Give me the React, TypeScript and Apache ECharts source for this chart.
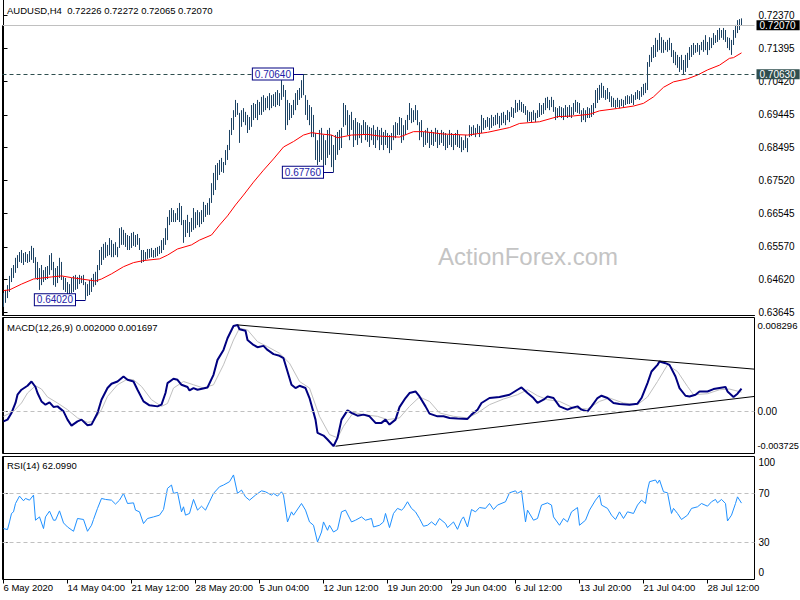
import React, { useEffect, useRef } from 'react';
import * as echarts from 'echarts';

const FONT = '"Liberation Sans", Arial, sans-serif';

const xTickIndex = [0, 32, 64, 96, 128, 160, 192, 224, 256, 288, 320, 352];
const xTickLabels = ['6 May 2020', '14 May 04:00', '21 May 12:00', '28 May 20:00', '5 Jun 04:00', '12 Jun 12:00', '19 Jun 20:00', '29 Jun 04:00', '6 Jul 12:00', '13 Jul 20:00', '21 Jul 04:00', '28 Jul 12:00'];
const priceTicks = [0.7237, 0.71395, 0.7042, 0.69445, 0.68495, 0.6752, 0.66545, 0.6557, 0.6462, 0.63645];
const macdTicks = [-0.003725, 0, 0.008296];
const rsiTicks = [0, 30, 70, 100];

const barHigh = [
0.6422,0.6431,0.6445,0.6472,0.6495,0.6504,0.6525,0.6533,0.6542,0.6548,
0.6539,0.6542,0.6536,0.6545,0.6560,0.6554,0.6527,0.6513,0.6495,0.6504,
0.6489,0.6498,0.6501,0.6533,0.6539,0.6513,0.6495,0.6501,0.6525,0.6513,
0.6469,0.6466,0.6454,0.6448,0.6466,0.6472,0.6475,0.6469,0.6475,0.6472,
0.6475,0.6454,0.6448,0.6460,0.6466,0.6478,0.6484,0.6504,0.6548,0.6557,
0.6566,0.6571,0.6563,0.6583,0.6577,0.6566,0.6571,0.6557,0.6612,0.6615,
0.6607,0.6598,0.6592,0.6589,0.6598,0.6601,0.6592,0.6595,0.6583,0.6548,
0.6548,0.6542,0.6551,0.6551,0.6554,0.6548,0.6554,0.6557,0.6560,0.6577,
0.6583,0.6612,0.6645,0.6665,0.6671,0.6665,0.6656,0.6671,0.6686,0.6677,
0.6636,0.6636,0.6651,0.6630,0.6642,0.6671,0.6659,0.6665,0.6659,0.6665,
0.6689,0.6680,0.6686,0.6700,0.6744,0.6774,0.6797,0.6803,0.6812,0.6818,
0.6806,0.6841,0.6856,0.6900,0.6935,0.6958,0.6988,0.6979,0.6950,0.6958,
0.6964,0.6953,0.6944,0.6938,0.6973,0.6979,0.6976,0.6988,0.6982,0.6997,
0.7002,0.6994,0.6999,0.7008,0.7002,0.7005,0.7011,0.7017,0.7008,0.7046,
0.7032,0.7017,0.6988,0.6979,0.6973,0.6988,0.7008,0.7017,0.7023,0.7046,
0.7064,0.7002,0.6988,0.6973,0.6967,0.6944,0.6891,0.6870,0.6900,0.6906,
0.6885,0.6870,0.6900,0.6906,0.6885,0.6856,0.6885,0.6894,0.6900,0.6906,
0.6979,0.6973,0.6958,0.6944,0.6953,0.6929,0.6935,0.6923,0.6920,0.6914,
0.6929,0.6923,0.6914,0.6909,0.6906,0.6914,0.6900,0.6909,0.6900,0.6906,
0.6894,0.6900,0.6891,0.6885,0.6891,0.6914,0.6923,0.6920,0.6938,0.6935,
0.6914,0.6929,0.6944,0.6979,0.6964,0.6958,0.6973,0.6958,0.6923,0.6929,
0.6894,0.6900,0.6906,0.6894,0.6900,0.6894,0.6906,0.6900,0.6891,0.6900,
0.6894,0.6891,0.6885,0.6900,0.6891,0.6885,0.6891,0.6900,0.6885,0.6879,
0.6870,0.6885,0.6876,0.6914,0.6909,0.6914,0.6906,0.6917,0.6912,0.6944,
0.6935,0.6929,0.6938,0.6935,0.6944,0.6938,0.6944,0.6950,0.6941,0.6950,
0.6953,0.6944,0.6958,0.6953,0.6967,0.6964,0.6988,0.6979,0.6988,0.6982,
0.6976,0.6970,0.6958,0.6953,0.6953,0.6958,0.6950,0.6958,0.6979,0.6973,
0.6979,0.6994,0.6997,0.6988,0.6997,0.6988,0.6967,0.6964,0.6970,0.6967,
0.6964,0.6973,0.6967,0.6973,0.6967,0.6979,0.6988,0.6982,0.6979,0.6958,
0.6964,0.6958,0.6967,0.6964,0.6973,0.6979,0.7017,0.7023,0.7032,0.7038,
0.7029,0.7017,0.7023,0.7011,0.6999,0.6994,0.6988,0.6994,0.6988,0.6991,
0.6988,0.6999,0.7002,0.6999,0.7005,0.7002,0.7011,0.7017,0.7014,0.7026,
0.7035,0.7038,0.7099,0.7120,0.7143,0.7149,0.7170,0.7164,0.7184,0.7172,
0.7164,0.7158,0.7164,0.7170,0.7155,0.7134,0.7129,0.7120,0.7114,0.7120,
0.7105,0.7120,0.7126,0.7143,0.7149,0.7155,0.7149,0.7155,0.7149,0.7158,
0.7164,0.7178,0.7158,0.7172,0.7170,0.7184,0.7178,0.7193,0.7199,0.7193,
0.7199,0.7193,0.7172,0.7170,0.7164,0.7193,0.7208,0.7222,0.7225,0.72272
];

const barLow = [
0.6381,0.6393,0.6407,0.6425,0.6454,0.6466,0.6481,0.6495,0.6513,0.6510,
0.6504,0.6513,0.6510,0.6513,0.6519,0.6510,0.6466,0.6460,0.6431,0.6445,
0.6454,0.6460,0.6463,0.6475,0.6489,0.6445,0.6440,0.6451,0.6466,0.6460,
0.6431,0.6425,0.6410,0.6416,0.6422,0.6425,0.6431,0.6434,0.6448,0.6451,
0.6445,0.6402,0.6413,0.6416,0.6425,0.6440,0.6445,0.6454,0.6489,0.6504,
0.6519,0.6525,0.6530,0.6533,0.6527,0.6527,0.6533,0.6527,0.6554,0.6563,
0.6563,0.6557,0.6548,0.6548,0.6554,0.6560,0.6557,0.6563,0.6548,0.6510,
0.6513,0.6519,0.6522,0.6525,0.6527,0.6525,0.6527,0.6530,0.6536,0.6539,
0.6548,0.6563,0.6577,0.6621,0.6630,0.6630,0.6630,0.6636,0.6630,0.6621,
0.6569,0.6586,0.6598,0.6586,0.6601,0.6607,0.6612,0.6621,0.6615,0.6624,
0.6630,0.6645,0.6651,0.6651,0.6686,0.6709,0.6724,0.6753,0.6768,0.6777,
0.6774,0.6797,0.6812,0.6841,0.6885,0.6900,0.6938,0.6944,0.6862,0.6909,
0.6923,0.6914,0.6891,0.6900,0.6909,0.6929,0.6935,0.6929,0.6944,0.6944,
0.6953,0.6958,0.6964,0.6958,0.6964,0.6970,0.6967,0.6973,0.6970,0.6988,
0.6997,0.6900,0.6914,0.6929,0.6935,0.6944,0.6958,0.6973,0.6988,0.6994,
0.7002,0.6944,0.6929,0.6914,0.6879,0.6879,0.6812,0.6797,0.6806,0.6812,
0.6791,0.6797,0.6818,0.6827,0.6791,0.6776,0.6812,0.6827,0.6841,0.6847,
0.6909,0.6914,0.6885,0.6870,0.6900,0.6850,0.6870,0.6856,0.6876,0.6862,
0.6885,0.6870,0.6865,0.6850,0.6870,0.6856,0.6847,0.6870,0.6841,0.6856,
0.6841,0.6856,0.6847,0.6832,0.6841,0.6870,0.6876,0.6885,0.6885,0.6862,
0.6870,0.6885,0.6900,0.6929,0.6920,0.6923,0.6929,0.6914,0.6870,0.6879,
0.6850,0.6856,0.6862,0.6847,0.6856,0.6853,0.6865,0.6847,0.6856,0.6862,
0.6853,0.6841,0.6847,0.6856,0.6850,0.6841,0.6856,0.6850,0.6847,0.6835,
0.6841,0.6847,0.6835,0.6879,0.6882,0.6885,0.6879,0.6891,0.6879,0.6891,
0.6900,0.6906,0.6909,0.6900,0.6906,0.6912,0.6914,0.6917,0.6906,0.6914,
0.6920,0.6914,0.6929,0.6923,0.6938,0.6935,0.6950,0.6953,0.6958,0.6953,
0.6950,0.6944,0.6923,0.6926,0.6923,0.6929,0.6923,0.6935,0.6938,0.6944,
0.6947,0.6958,0.6964,0.6958,0.6967,0.6953,0.6929,0.6935,0.6938,0.6935,
0.6929,0.6938,0.6935,0.6938,0.6935,0.6944,0.6953,0.6950,0.6947,0.6923,
0.6929,0.6923,0.6935,0.6935,0.6938,0.6944,0.6964,0.6979,0.6988,0.6994,
0.6994,0.6988,0.6991,0.6982,0.6967,0.6967,0.6964,0.6967,0.6964,0.6970,
0.6967,0.6973,0.6976,0.6976,0.6979,0.6973,0.6988,0.6991,0.6988,0.6997,
0.7002,0.7008,0.7017,0.7085,0.7099,0.7111,0.7114,0.7129,0.7134,0.7126,
0.7126,0.7134,0.7129,0.7134,0.7114,0.7096,0.7090,0.7082,0.7070,0.7076,
0.7064,0.7070,0.7082,0.7105,0.7114,0.7120,0.7126,0.7129,0.7120,0.7134,
0.7129,0.7134,0.7120,0.7134,0.7140,0.7149,0.7155,0.7158,0.7164,0.7170,
0.7164,0.7158,0.7140,0.7134,0.7120,0.7149,0.7170,0.7184,0.7193,0.72065
];

// moving average, [bar index, price]
const maLine = [
[0,0.6429],[3,0.6431],[9,0.6448],[15,0.6463],[24,0.6469],[29,0.6472],[34,0.6467],[40,0.6462],[46,0.6457],[49,0.6463],
[54,0.6478],[60,0.6499],[65,0.6511],[70,0.6517],[78,0.6522],[82,0.6533],[87,0.6551],[94,0.6563],[98,0.6577],[104,0.6592],
[108,0.6621],[112,0.6648],[116,0.6680],[120,0.6709],[125,0.6747],[130,0.6782],[135,0.6815],[140,0.6850],[145,0.6866],[150,0.6885],
[154,0.6892],[159,0.6888],[164,0.6885],[167,0.6877],[174,0.6885],[182,0.6887],[188,0.6882],[198,0.6879],[205,0.6895],[210,0.6895],
[220,0.6888],[232,0.6885],[242,0.6893],[253,0.6907],[258,0.6919],[268,0.6924],[277,0.6939],[285,0.6941],[293,0.6946],[298,0.6956],
[307,0.6963],[315,0.6970],[320,0.6978],[325,0.6997],[330,0.7025],[335,0.7041],[342,0.7050],[347,0.7061],[352,0.7076],[358,0.7090],
[363,0.7110],[365,0.7112],[369,0.7126]
];

const macdMain = [
[0,-0.00088],[2,-0.00073],[4,-0.00014],[6,0.00074],[7,0.00147],[9,0.00191],[12,0.00226],[14,0.00264],[16,0.00215],[17,0.00162],
[19,0.00088],[21,0.00059],[23,0.00079],[25,0.00039],[27,0.00044],[30,0],[32,-0.00073],[34,-0.00126],[37,-0.00088],[39,-0.00073],
[42,-0.00123],[44,-0.00117],[47,-0.00014],[49,0.00103],[52,0.00206],[54,0.00244],[57,0.00264],[60,0.00308],[62,0.00279],[65,0.00264],
[67,0.00191],[70,0.00088],[73,0.00053],[77,0.00044],[79,0.00059],[81,0.00162],[82,0.0025],[85,0.00288],[87,0.00279],[89,0.00235],
[92,0.00215],[93,0.00185],[95,0.00206],[97,0.00191],[102,0.00211],[105,0.00323],[107,0.00455],[110,0.00543],[112,0.00646],[115,0.00755],
[117,0.00764],[118,0.00726],[121,0.00713],[122,0.00631],[125,0.00587],[127,0.00567],[130,0.00579],[132,0.00543],[135,0.00506],[138,0.00491],
[140,0.0047],[142,0.00352],[144,0.00235],[146,0.00206],[148,0.00226],[151,0.00206],[153,0.00118],[156,-0.00073],[157,-0.0019],[160,-0.00214],
[162,-0.00249],[165,-0.00308],[167,-0.00234],[169,-0.00073],[172,0.00009],[174,-0.00014],[177,-0.00038],[180,-0.00029],[183,-0.00044],[186,-0.00102],
[189,-0.00102],[191,-0.00073],[193,-0.00117],[196,-0.00073],[198,0.00037],[201,0.00118],[203,0.00162],[206,0.00176],[208,0.00132],[211,0.00044],
[213,-0.0002],[217,-0.00044],[220,-0.00044],[223,-0.00058],[227,-0.00064],[232,-0.00067],[234,-0.00029],[237,0.00015],[239,0.00074],[243,0.00118],
[248,0.00127],[253,0.00147],[257,0.00191],[259,0.00211],[262,0.00162],[265,0.00118],[267,0.00074],[270,0.00103],[272,0.00132],[275,0.00118],
[278,0.00044],[282,0.00015],[284,0.0003],[287,0.00044],[289,0.00015],[292,0],[294,0.00044],[297,0.00118],[299,0.00138],[302,0.00118],
[305,0.00074],[308,0.00065],[313,0.00059],[317,0.00068],[319,0.00118],[322,0.0025],[324,0.00352],[327,0.00411],[328,0.0044],[331,0.00426],
[333,0.00411],[336,0.00308],[338,0.00206],[341,0.00138],[343,0.00132],[346,0.00147],[348,0.00176],[352,0.00176],[355,0.00197],[358,0.00206],
[361,0.00215],[362,0.00176],[365,0.00127],[367,0.00156],[369,0.002]
];

const macdSignal = [
[0,-0.00044],[5,0],[9,0.00074],[12,0.00162],[16,0.00226],[19,0.00197],[22,0.00127],[27,0.00074],[32,0.00015],[37,-0.00058],
[42,-0.00097],[45,-0.00088],[49,0.00015],[52,0.00132],[57,0.00235],[62,0.00285],[65,0.00279],[69,0.0022],[74,0.00103],[79,0.00044],
[82,0.0007],[85,0.00206],[90,0.00264],[95,0.00235],[100,0.00206],[105,0.00235],[110,0.00411],[115,0.00631],[118,0.00735],[122,0.0072],
[127,0.00616],[132,0.00572],[138,0.00514],[143,0.00426],[148,0.00264],[153,0.00206],[158,-0.00044],[163,-0.00205],[167,-0.00234],[170,-0.00132],
[175,-0.00009],[180,-0.00029],[187,-0.00044],[192,-0.00073],[198,-0.00058],[203,0.00044],[208,0.00127],[213,0.00088],[218,-0.00014],[225,-0.00044],
[232,-0.00058],[237,-0.00014],[243,0.00059],[250,0.00109],[257,0.00147],[262,0.00191],[267,0.00138],[272,0.00103],[278,0.00088],[285,0.0003],
[292,0.00021],[298,0.00088],[303,0.00118],[310,0.00074],[317,0.00059],[322,0.00127],[327,0.00264],[332,0.00411],[337,0.00352],[342,0.0022],
[345,0.00147],[352,0.00156],[358,0.00191],[363,0.00197],[369,0.0017]
];

const macdUpperTrend = [[117, 0.00764], [375.5, 0.00373]];
const macdLowerTrend = [[166, -0.00308], [375.5, 0.00132]];

const rsiLine = [
[0,41.4],[2,40.6],[3,46.8],[4,53.7],[5,55.0],[6,61.8],[8,67.8],[10,64.0],[11,65.9],[13,64.5],
[15,68.6],[16,48.2],[18,50.9],[20,41.4],[21,50.9],[23,55.6],[25,48.2],[26,48.2],[28,55.8],[30,46.0],
[32,42.7],[35,39.2],[37,49.6],[40,48.8],[42,39.2],[44,44.1],[45,48.8],[47,57.8],[49,65.9],[51,65.1],
[54,64.5],[56,61.3],[58,64.5],[60,70.0],[62,61.8],[65,62.3],[66,56.4],[68,55.0],[70,45.5],[72,49.6],
[75,50.9],[78,52.3],[80,56.9],[82,74.1],[84,76.8],[85,70.0],[87,70.8],[89,55.0],[90,59.1],[91,52.3],
[93,53.7],[95,65.1],[97,56.4],[99,59.6],[101,56.4],[103,63.2],[105,70.0],[108,75.4],[110,76.8],[113,79.5],
[115,85.0],[117,70.0],[119,72.7],[121,67.2],[123,64.5],[126,68.6],[129,72.1],[131,71.3],[134,68.6],[135,70.0],
[137,67.8],[139,71.3],[140,68.6],[142,46.8],[144,55.0],[145,52.3],[149,61.8],[151,56.4],[153,46.8],[155,44.1],
[157,30.5],[159,38.6],[160,46.8],[162,40.0],[163,44.1],[165,38.6],[167,40.6],[169,55.0],[171,56.4],[174,46.8],
[176,48.2],[179,50.9],[181,48.2],[184,49.6],[185,42.7],[188,44.1],[190,46.8],[191,53.7],[193,42.2],[195,53.7],
[197,57.8],[199,56.4],[200,57.8],[202,63.2],[204,57.8],[206,55.0],[208,49.6],[210,43.3],[212,44.1],[214,46.8],
[216,44.1],[218,49.6],[221,45.5],[222,42.2],[225,46.8],[227,40.8],[229,48.8],[230,50.9],[232,42.7],[234,56.9],
[236,55.0],[238,58.5],[241,57.8],[243,61.8],[245,56.9],[247,60.5],[251,63.2],[253,70.5],[256,72.1],[257,70.0],
[259,72.1],[261,46.8],[262,56.4],[265,48.2],[267,49.6],[269,60.5],[272,62.3],[274,60.5],[275,50.9],[278,44.1],
[280,49.6],[282,46.8],[284,55.0],[287,58.5],[288,44.1],[291,48.2],[293,56.4],[296,64.5],[298,68.6],[299,60.5],
[302,57.8],[304,52.3],[306,48.8],[308,55.0],[310,49.6],[312,55.0],[315,53.7],[317,60.5],[319,64.5],[321,61.8],
[322,72.7],[323,79.5],[326,80.9],[327,78.2],[328,80.9],[330,71.3],[332,70.5],[334,53.7],[335,57.8],[337,53.7],
[339,48.8],[342,52.3],[344,57.8],[347,59.1],[349,61.8],[352,59.6],[354,63.2],[356,65.1],[357,62.3],[359,65.1],
[361,61.8],[362,47.6],[364,52.3],[366,61.8],[367,67.2],[369,62.1]
];

const lastPrice = 0.7207;
const levelPrice = 0.7063;
const swingLabels = [
  { from: 145, to: 150, price: 0.7064 },
  { from: 160, to: 165, price: 0.6776 },
  { from: 36, to: 41, price: 0.6402 },
];

const BAR_COLOR = '#1c4263';
const GL = 2.5;
const GR = 45.5;

export default function App() {
  const ref = useRef<HTMLDivElement>(null);
  useEffect(() => {
    if (!ref.current) return;
    const chart = echarts.init(ref.current, undefined, { renderer: 'svg' });
    const n = Math.min(barHigh.length, barLow.length);
    const bars = [] as number[][];
    for (let i = 0; i < n; i++) bars.push([i, barHigh[i], barLow[i]]);

    const txt = (size = 10) => ({ fontSize: size, fontFamily: FONT, color: '#000' });

    const xAxes = [0, 1, 2].map((g) => ({
      type: 'value',
      gridIndex: g,
      min: -0.5,
      max: 375.5,
      axisLine: { show: g === 0, onZero: false, lineStyle: { color: '#000', width: 1 } },
      axisTick: g === 2
        ? { show: true, length: 4, customValues: xTickIndex, lineStyle: { color: '#000' } }
        : { show: false },
      axisLabel: g === 2
        ? {
            show: true,
            customValues: xTickIndex,
            formatter: (v: number) => {
              const k = xTickIndex.indexOf(Math.round(v));
              return k >= 0 ? xTickLabels[k] : '';
            },
            align: 'left',
            margin: 3,
            ...txt(9.5),
          }
        : { show: false },
      splitLine: { show: false },
    }));

    const yAxes = [
      {
        type: 'value', gridIndex: 0, position: 'right',
        min: 0.63574, max: 0.72810,
        axisLine: { show: true, lineStyle: { color: '#000' } },
        axisTick: { show: true, length: 4, customValues: priceTicks, lineStyle: { color: '#000' } },
        axisLabel: { show: true, customValues: priceTicks, formatter: (v: number) => v.toFixed(5), margin: 4, ...txt(10) },
        splitLine: { show: false },
      },
      {
        type: 'value', gridIndex: 1, position: 'right',
        min: -0.003725, max: 0.008296,
        axisLine: { show: true, lineStyle: { color: '#000' } },
        axisTick: { show: true, length: 4, customValues: macdTicks, lineStyle: { color: '#000' } },
        axisLabel: {
          show: true, customValues: macdTicks, margin: 3, ...txt(10),
          formatter: (v: number) => {
            if (Math.abs(v) < 1e-9) return '0.00';
            const s = v.toFixed(6);
            return v > 0 ? `{t|${s}}` : `{b|${s}}`;
          },
          rich: {
            t: { padding: [15, 0, 0, 0], ...txt(9.6) },
            b: { padding: [0, 0, 15, 0], ...txt(9.2) },
          },
        },
        splitLine: { show: false },
      },
      {
        type: 'value', gridIndex: 2, position: 'right',
        min: 0, max: 100,
        axisLine: { show: true, lineStyle: { color: '#000' } },
        axisTick: { show: true, length: 4, customValues: rsiTicks, lineStyle: { color: '#000' } },
        axisLabel: {
          show: true, customValues: rsiTicks, margin: 4, ...txt(10),
          formatter: (v: number) => {
            if (v >= 100) return '{t|100}';
            if (v <= 0) return '{b|0}';
            return String(v);
          },
          rich: {
            t: { padding: [11, 0, 0, 0], ...txt(10) },
            b: { padding: [0, 0, 15, 0], ...txt(10) },
          },
        },
        splitLine: { show: false },
      },
    ];

    const option = {
      animation: false,
      backgroundColor: '#ffffff',
      textStyle: { fontFamily: FONT },
      grid: [
        { left: GL, right: GR, top: 0, height: 315, show: false, outerBoundsMode: 'none', containLabel: false },
        { left: GL, right: GR, top: 317.5, height: 136, show: true, borderColor: '#000', borderWidth: 1, backgroundColor: 'transparent', outerBoundsMode: 'none', containLabel: false },
        { left: GL, right: GR, top: 456.5, height: 123, show: true, borderColor: '#000', borderWidth: 1, backgroundColor: 'transparent', outerBoundsMode: 'none', containLabel: false },
      ],
      xAxis: xAxes,
      yAxis: yAxes,
      graphic: [
        { type: 'line', z: 5, shape: { x1: 2.5, y1: 25, x2: 2.5, y2: 315 }, style: { stroke: '#000', lineWidth: 1 } },
        { type: 'text', z: 0, x: 438, y: 256, style: { text: 'ActionForex.com', fontSize: 24, fontFamily: FONT, fill: '#c4c4c4', verticalAlign: 'middle' } },
        { type: 'text', z: 10, x: 7, y: 10.5, style: { text: 'AUDUSD,H4 \u00a00.72226 0.72272 0.72065 0.72070', fontSize: 9.5, fontFamily: FONT, fill: '#000', verticalAlign: 'middle' } },
        { type: 'text', z: 10, x: 7, y: 327, style: { text: 'MACD(12,26,9) 0.002000 0.001697', fontSize: 9.5, fontFamily: FONT, fill: '#000', verticalAlign: 'middle' } },
        { type: 'text', z: 10, x: 7, y: 465, style: { text: 'RSI(14) 62.0990', fontSize: 9.5, fontFamily: FONT, fill: '#000', verticalAlign: 'middle' } },
      ],
      series: [
        {
          type: 'custom',
          name: 'AUDUSD',
          xAxisIndex: 0,
          yAxisIndex: 0,
          data: bars,
          encode: { x: 0, y: [1, 2] },
          renderItem: (params: any, api: any) => {
            const i = api.value(0);
            const p1 = api.coord([i, api.value(1)]);
            const p2 = api.coord([i, api.value(2)]);
            const x = p1[0];
            return {
              type: 'line',
              shape: { x1: x, y1: p1[1], x2: x, y2: Math.max(p2[1], p1[1] + 1) },
              style: { stroke: BAR_COLOR, lineWidth: 1 },
            };
          },
          z: 3,
        },
        {
          type: 'line',
          name: 'MA',
          xAxisIndex: 0,
          yAxisIndex: 0,
          data: maLine,
          showSymbol: false,
          symbol: 'none',
          lineStyle: { color: '#ff0000', width: 1 },
          z: 4,
          markLine: {
            silent: true,
            symbol: ['none', 'none'],
            precision: 6,
            z: 10,
            data: [
              {
                yAxis: lastPrice,
                lineStyle: { color: '#c0c0c0', type: 'solid', width: 1 },
                label: { show: true, position: 'end', distance: 2, formatter: lastPrice.toFixed(5), color: '#fff', backgroundColor: '#000', padding: [1, 4, 0, 3], lineHeight: 9, fontSize: 10, fontFamily: FONT },
              },
              {
                yAxis: levelPrice,
                lineStyle: { color: '#2f4f4f', type: [4, 3], width: 1 },
                label: { show: true, position: 'end', distance: 2, formatter: levelPrice.toFixed(5), color: '#fff', backgroundColor: '#2f4f4f', padding: [1, 4, 0, 3], lineHeight: 9, fontSize: 10, fontFamily: FONT },
              },
              ...swingLabels.map((s) => [
                { coord: [s.from, s.price], lineStyle: { color: '#000080', type: 'solid', width: 1 }, label: { show: false } },
                { coord: [s.to, s.price] },
              ]),
            ],
          },
          markPoint: {
            silent: true,
            symbol: 'rect',
            symbolSize: 1,
            itemStyle: { color: 'rgba(0,0,0,0)' },
            z: 10,
            data: swingLabels.map((s) => ({
              coord: [s.from, s.price],
              value: s.price,
              label: {
                show: true, position: 'left', distance: 0,
                formatter: s.price.toFixed(5),
                color: '#1c1ca8', fontSize: 10, fontFamily: FONT,
                backgroundColor: '#ffffff', borderColor: '#000080', borderWidth: 1,
                padding: [1, 2, 0, 2], lineHeight: 10,
              },
            })),
          },
        },
        {
          type: 'line', name: 'Signal', xAxisIndex: 1, yAxisIndex: 1,
          data: macdSignal, showSymbol: false, symbol: 'none',
          lineStyle: { color: '#c0c0c0', width: 1 }, z: 3,
          markLine: {
            silent: true, symbol: ['none', 'none'], precision: 6,
            label: { show: false },
            lineStyle: { color: '#c0c0c0', type: [4, 3], width: 1 },
            data: [{ yAxis: 0 }],
          },
        },
        {
          type: 'line', name: 'MACD', xAxisIndex: 1, yAxisIndex: 1,
          data: macdMain, showSymbol: false, symbol: 'none',
          lineStyle: { color: '#000080', width: 2 }, z: 4,
        },
        {
          type: 'line', name: 'Upper trend', xAxisIndex: 1, yAxisIndex: 1,
          data: macdUpperTrend, showSymbol: false, symbol: 'none',
          lineStyle: { color: '#000', width: 1 }, z: 5,
        },
        {
          type: 'line', name: 'Lower trend', xAxisIndex: 1, yAxisIndex: 1,
          data: macdLowerTrend, showSymbol: false, symbol: 'none',
          lineStyle: { color: '#000', width: 1 }, z: 5,
        },
        {
          type: 'line', name: 'RSI', xAxisIndex: 2, yAxisIndex: 2,
          data: rsiLine, showSymbol: false, symbol: 'none',
          lineStyle: { color: '#1e90ff', width: 1 }, z: 4,
          markLine: {
            silent: true, symbol: ['none', 'none'], precision: 2,
            label: { show: false },
            lineStyle: { color: '#c0c0c0', type: [4, 3], width: 1 },
            data: [{ yAxis: 70 }, { yAxis: 30 }],
          },
        },
      ],
    };
    chart.setOption(option as any);
    return () => chart.dispose();
  }, []);
  return (
    <div
      ref={ref}
      style={{ position: 'absolute', left: 0, top: 0, width: 800, height: 600, background: '#fff' }}
    />
  );
}
